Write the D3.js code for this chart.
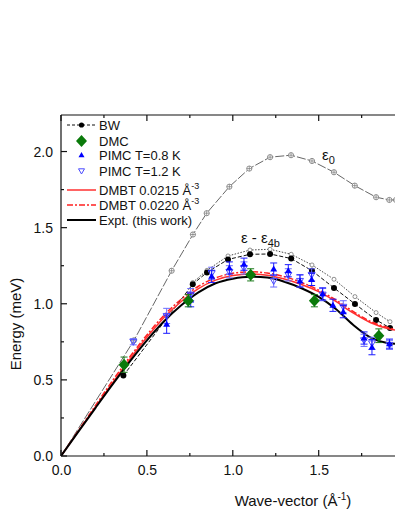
<!DOCTYPE html>
<html>
<head>
<meta charset="utf-8">
<script src="https://cdn.jsdelivr.net/npm/d3@7"></script>
<style>
  body { margin: 0; background: #fff; }
  svg { font-family: Arial, "Liberation Sans", sans-serif; }
</style>
</head>
<body>
<svg id="chart" width="395" height="511"></svg>
<script>
// ---- data ----
const xTicks = [0, 0.5, 1.0, 1.5, 2.0];
const yTicks = [0, 0.5, 1.0, 1.5, 2.0];

// epsilon_0 (grey, crossed circles)
const e0Q = [0, 0.425, 0.644, 0.768, 0.848, 0.980, 1.096, 1.217, 1.339, 1.461, 1.589, 1.710, 1.834, 1.911, 1.95];
const e0E = [0, 0.76, 1.217, 1.455, 1.595, 1.769, 1.888, 1.963, 1.976, 1.938, 1.864, 1.776, 1.700, 1.682, 1.682];

// BW (black dots, dashed)
const bwQ = [0.363, 0.767, 0.850, 0.972, 1.100, 1.217, 1.340, 1.461, 1.589, 1.711, 1.834, 1.915];
const bwE = [0.528, 1.129, 1.206, 1.291, 1.325, 1.327, 1.297, 1.217, 1.104, 0.999, 0.894, 0.841];

// upper dotted curve with open circles (no legend entry)
const bw2Q = [0.767, 0.850, 0.972, 1.100, 1.217, 1.340, 1.461, 1.589, 1.711, 1.834, 1.915];
const bw2E = [1.14, 1.22, 1.314, 1.353, 1.358, 1.325, 1.255, 1.161, 1.047, 0.942, 0.882];

// DMC
const dmcQ = [0.367, 0.741, 1.104, 1.475, 1.850];
const dmcE = [0.60, 1.02, 1.19, 1.02, 0.79];
const dmcErr = [0.05, 0.04, 0.04, 0.04, 0.045];

// PIMC T=0.8 K
const p08Q = [0.615, 0.755, 0.877, 0.980, 1.065, 1.238, 1.323, 1.391, 1.459, 1.523, 1.583, 1.643, 1.764, 1.810, 1.912];
const p08E = [0.866, 1.025, 1.18, 1.235, 1.26, 1.228, 1.217, 1.15, 1.16, 1.065, 0.99, 0.948, 0.775, 0.715, 0.738];
const p08Err = [0.06, 0.045, 0.04, 0.04, 0.04, 0.04, 0.04, 0.04, 0.04, 0.04, 0.04, 0.04, 0.04, 0.05, 0.03];

// PIMC T=1.2 K
const p12Q = [0.421, 0.615, 0.755, 0.877, 0.980, 1.065, 1.238, 1.323, 1.391, 1.459, 1.523, 1.643, 1.764, 1.810, 1.912];
const p12E = [0.75, 0.92, 1.06, 1.20, 1.21, 1.235, 1.15, 1.19, 1.15, 1.19, 1.06, 0.98, 0.76, 0.74, 0.73];
const p12Err = [0.02, 0.05, 0.04, 0.04, 0.04, 0.04, 0.04, 0.04, 0.04, 0.04, 0.04, 0.04, 0.04, 0.04, 0.03];

// DMBT curves and experiment
const curveQ = [0, 0.1, 0.2, 0.3, 0.4, 0.5, 0.6, 0.7, 0.8, 0.9, 1.0, 1.1, 1.2, 1.3, 1.4, 1.5, 1.6, 1.7, 1.8, 1.9, 1.95, 2.0];
const dmbt1E = [0, 0.16, 0.32, 0.48, 0.635, 0.78, 0.91, 1.015, 1.10, 1.155, 1.185, 1.196, 1.188, 1.163, 1.127, 1.08, 1.015, 0.94, 0.877, 0.838, 0.826, 0.82];
const dmbt2E = [0, 0.165, 0.33, 0.495, 0.65, 0.795, 0.925, 1.03, 1.115, 1.17, 1.20, 1.21, 1.202, 1.178, 1.14, 1.09, 1.025, 0.95, 0.885, 0.845, 0.832, 0.83];
const exptE = [0, 0.158, 0.315, 0.47, 0.62, 0.76, 0.885, 0.99, 1.075, 1.135, 1.165, 1.178, 1.172, 1.145, 1.102, 1.045, 0.965, 0.862, 0.78, 0.742, 0.737, 0.74];

// ---- layout ----
const svg = d3.select('#chart');
const margin = {top: 115, left: 61, bottom: 456};

const x = d3.scaleLinear().domain([0, 2.0]).range([margin.left, margin.left + 343.6]);
const y = d3.scaleLinear().domain([0, 2.24]).range([margin.bottom, margin.top]);

svg.append('clipPath').attr('id', 'clip')
  .append('rect').attr('x', margin.left).attr('y', margin.top)
  .attr('width', 400).attr('height', margin.bottom - margin.top);

const zip = (a, b) => a.map((v, i) => [v, b[i]]);
const line = d3.line().x(d => x(d[0])).y(d => y(d[1]));
const smooth = d3.line().curve(d3.curveMonotoneX).x(d => x(d[0])).y(d => y(d[1]));

const plot = svg.append('g').attr('clip-path', 'url(#clip)');

// axes
const minor = d3.range(0, 2.01, 0.25);
const yMinor = d3.range(0, 2.24, 0.25);

svg.append('g')
  .attr('transform', `translate(0,${margin.bottom})`)
  .call(d3.axisBottom(x).tickValues(xTicks.filter(t => t < 1.95)).tickFormat(d3.format('.1f')).tickSize(0).tickPadding(9))
  .call(g => g.select('.domain').remove())
  .selectAll('text').attr('font-size', 14).attr('fill', '#111').style('font-family', 'Arial, "Liberation Sans", sans-serif');

svg.append('g')
  .attr('transform', `translate(${margin.left},0)`)
  .call(d3.axisLeft(y).tickValues(yTicks).tickFormat(d3.format('.1f')).tickSize(0).tickPadding(8))
  .call(g => g.select('.domain').remove())
  .selectAll('text').attr('font-size', 14).attr('fill', '#111').style('font-family', 'Arial, "Liberation Sans", sans-serif');

const frame = svg.append('g').attr('stroke', '#111').attr('stroke-width', 1.2);
frame.append('line').attr('x1', margin.left).attr('x2', 400).attr('y1', margin.bottom).attr('y2', margin.bottom);
frame.append('line').attr('x1', margin.left).attr('x2', 400).attr('y1', margin.top).attr('y2', margin.top);
frame.append('line').attr('x1', margin.left).attr('x2', margin.left).attr('y1', margin.top).attr('y2', margin.bottom);

minor.forEach(t => {
  const len = (Math.round(t * 100) % 50 === 0) ? 6 : 3;
  frame.append('line').attr('x1', x(t)).attr('x2', x(t)).attr('y1', margin.bottom).attr('y2', margin.bottom - len);
  frame.append('line').attr('x1', x(t)).attr('x2', x(t)).attr('y1', margin.top).attr('y2', margin.top + len);
});
yMinor.forEach(t => {
  const len = (Math.round(t * 100) % 50 === 0) ? 6 : 3;
  frame.append('line').attr('x1', margin.left).attr('x2', margin.left + len).attr('y1', y(t)).attr('y2', y(t));
});

// axis titles
svg.append('text')
  .attr('transform', `translate(21,324) rotate(-90)`)
  .attr('text-anchor', 'middle').attr('font-size', 15).attr('fill', '#111')
  .text('Energy (meV)');

const xt = svg.append('text')
  .attr('x', 293).attr('y', 506)
  .attr('text-anchor', 'middle').attr('font-size', 15).attr('fill', '#111');
xt.append('tspan').text('Wave-vector (Å');
xt.append('tspan').attr('dy', -6).attr('font-size', 10).text('-1');
xt.append('tspan').attr('dy', 6).text(')');

// ---- series ----
// epsilon_0
plot.append('path').datum(zip(e0Q, e0E))
  .attr('d', line).attr('fill', 'none').attr('stroke', '#555').attr('stroke-width', 0.9)
  .attr('stroke-dasharray', '9,2');
const e0g = plot.append('g').selectAll('g').data(zip(e0Q, e0E).slice(1)).join('g')
  .attr('transform', d => `translate(${x(d[0])},${y(d[1])})`);
e0g.append('circle').attr('r', 2.6).attr('fill', '#fff').attr('stroke', '#777').attr('stroke-width', 0.8);
e0g.append('path').attr('d', 'M-2.6,0H2.6M0,-2.6V2.6').attr('stroke', '#777').attr('stroke-width', 0.7);

// upper dotted curve
plot.append('path').datum(zip(bw2Q, bw2E))
  .attr('d', line).attr('fill', 'none').attr('stroke', '#333').attr('stroke-width', 0.9)
  .attr('stroke-dasharray', '1.5,1.5');
plot.append('g').selectAll('circle').data(zip(bw2Q, bw2E)).join('circle')
  .attr('cx', d => x(d[0])).attr('cy', d => y(d[1])).attr('r', 2)
  .attr('fill', '#fff').attr('stroke', '#777').attr('stroke-width', 0.8);

// BW
plot.append('path').datum(zip(bwQ, bwE))
  .attr('d', line).attr('fill', 'none').attr('stroke', '#111').attr('stroke-width', 1)
  .attr('stroke-dasharray', '4,2');
plot.append('g').selectAll('circle').data(zip(bwQ, bwE)).join('circle')
  .attr('cx', d => x(d[0])).attr('cy', d => y(d[1])).attr('r', 3).attr('fill', '#000');

// DMBT and experiment curves
plot.append('path').datum(zip(curveQ, dmbt1E))
  .attr('d', smooth).attr('fill', 'none').attr('stroke', '#ff3030').attr('stroke-width', 1.5);
plot.append('path').datum(zip(curveQ, dmbt2E))
  .attr('d', smooth).attr('fill', 'none').attr('stroke', '#ff2020').attr('stroke-width', 1.5)
  .attr('stroke-dasharray', '6,2,2,2');
plot.append('path').datum(zip(curveQ, exptE))
  .attr('d', smooth).attr('fill', 'none').attr('stroke', '#000').attr('stroke-width', 2);

// error bar helper
function errorBars(qs, es, errs, color) {
  const g = plot.append('g').attr('stroke', color).attr('stroke-width', 1);
  qs.forEach((q, i) => {
    const cx = x(q), y1 = y(es[i] - errs[i]), y2 = y(es[i] + errs[i]);
    g.append('line').attr('x1', cx).attr('x2', cx).attr('y1', y1).attr('y2', y2);
    g.append('line').attr('x1', cx - 3.5).attr('x2', cx + 3.5).attr('y1', y1).attr('y2', y1);
    g.append('line').attr('x1', cx - 3.5).attr('x2', cx + 3.5).attr('y1', y2).attr('y2', y2);
  });
}

// PIMC 1.2 K (open down triangles)
errorBars(p12Q, p12E, p12Err, '#6a6aff');
plot.append('g').selectAll('path').data(zip(p12Q, p12E)).join('path')
  .attr('d', 'M-3.5,-2.5L3.5,-2.5L0,3.5Z')
  .attr('transform', d => `translate(${x(d[0])},${y(d[1])})`)
  .attr('fill', 'none').attr('stroke', '#4a4aff').attr('stroke-width', 1);

// PIMC 0.8 K (filled up triangles)
errorBars(p08Q, p08E, p08Err, '#1a1aff');
plot.append('g').selectAll('path').data(zip(p08Q, p08E)).join('path')
  .attr('d', 'M-3.5,2.5L3.5,2.5L0,-3.5Z')
  .attr('transform', d => `translate(${x(d[0])},${y(d[1])})`)
  .attr('fill', '#0000ff');

// DMC diamonds
errorBars(dmcQ, dmcE, dmcErr, '#1a7a1a');
plot.append('g').selectAll('path').data(zip(dmcQ, dmcE)).join('path')
  .attr('d', 'M0,-6L5.5,0L0,6L-5.5,0Z')
  .attr('transform', d => `translate(${x(d[0])},${y(d[1])})`)
  .attr('fill', '#0a7a0a');

// curve labels
const lab1 = svg.append('text').attr('x', 322).attr('y', 160).attr('font-size', 15).attr('fill', '#111');
lab1.append('tspan').text('ε');
lab1.append('tspan').attr('dy', 4).attr('font-size', 11).text('0');

const lab2 = svg.append('text').attr('x', 241).attr('y', 243).attr('font-size', 15).attr('fill', '#111');
lab2.append('tspan').text('ε - ε');
lab2.append('tspan').attr('dy', 4).attr('font-size', 11).text('4b');

// ---- legend ----
const legendRows = [
  {label: 'BW', sup: '', y: 125, kind: 'bw'},
  {label: 'DMC', sup: '', y: 141, kind: 'dmc'},
  {label: 'PIMC T=0.8 K', sup: '', y: 155, kind: 'p08'},
  {label: 'PIMC T=1.2 K', sup: '', y: 171, kind: 'p12'},
  {label: 'DMBT 0.0215 Å', sup: '-3', y: 190, kind: 'dmbt1'},
  {label: 'DMBT 0.0220 Å', sup: '-3', y: 205, kind: 'dmbt2'},
  {label: 'Expt. (this work)', sup: '', y: 220, kind: 'expt'}
];
const lg = svg.append('g');
const lx0 = 67, lx1 = 96, lxm = 81.5;
legendRows.forEach(r => {
  if (r.kind === 'bw') {
    lg.append('line').attr('x1', lx0).attr('x2', lx1).attr('y1', r.y).attr('y2', r.y)
      .attr('stroke', '#111').attr('stroke-dasharray', '3,2');
    lg.append('circle').attr('cx', lxm).attr('cy', r.y).attr('r', 2.6).attr('fill', '#000');
  } else if (r.kind === 'dmc') {
    lg.append('path').attr('d', 'M0,-6L5.5,0L0,6L-5.5,0Z').attr('transform', `translate(${lxm},${r.y})`).attr('fill', '#0a7a0a');
  } else if (r.kind === 'p08') {
    lg.append('path').attr('d', 'M-3,2.2L3,2.2L0,-3Z').attr('transform', `translate(${lxm},${r.y})`).attr('fill', '#0000ff');
  } else if (r.kind === 'p12') {
    lg.append('path').attr('d', 'M-3,-2.2L3,-2.2L0,3Z').attr('transform', `translate(${lxm},${r.y})`)
      .attr('fill', 'none').attr('stroke', '#4a4aff');
  } else {
    const l = lg.append('line').attr('x1', lx0).attr('x2', lx1).attr('y1', r.y).attr('y2', r.y);
    if (r.kind === 'dmbt1') l.attr('stroke', '#ff3030').attr('stroke-width', 1.5);
    if (r.kind === 'dmbt2') l.attr('stroke', '#ff2020').attr('stroke-width', 1.5).attr('stroke-dasharray', '6,2,2,2');
    if (r.kind === 'expt') l.attr('stroke', '#000').attr('stroke-width', 2);
  }
  const t = lg.append('text').attr('x', 99).attr('y', r.y + 4.5).attr('font-size', 13).attr('fill', '#111');
  t.append('tspan').text(r.label);
  if (r.sup) t.append('tspan').attr('dy', -6).attr('font-size', 9).text(r.sup);
});
</script>
</body>
</html>
